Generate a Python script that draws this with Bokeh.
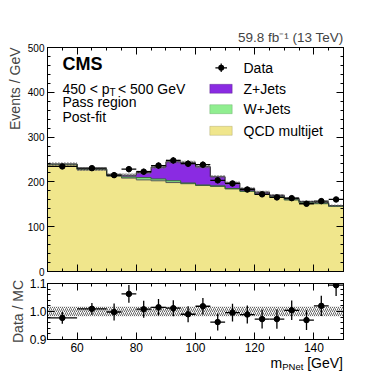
import math
from bokeh.plotting import figure
from bokeh.layouts import column
from bokeh.models import (Range1d, Label, LinearAxis, FixedTicker, BoxAnnotation, Title,
                          CustomLabelingPolicy, PrintfTickFormatter)
from bokeh.embed import file_html
from bokeh.resources import INLINE

# ---------------- data (events / GeV) ----------------
bin_edges = [50, 60, 70, 75, 80, 85, 90, 95, 100, 105, 110, 115, 120, 125, 130, 135, 140, 145, 150]
qcd = [238.5, 227.5, 213.0, 208.5, 204.5, 202.5, 198.5, 196.0, 192.0, 190.0, 184.5, 179.0,
       172.5, 166.5, 160.0, 153.5, 151.5, 145.5]
wjets = [0.5, 0.5, 1.0, 2.5, 5.0, 4.0, 4.0, 1.5, 1.0, 1.0, 0.5, 0.3, 0.2, 0.2, 0.1, 0.1, 0.1, 0.1]
zjets = [1.0, 0.5, 1.5, 4.0, 11.5, 26.5, 42.5, 45.5, 41.0, 20.5, 12.3, 5.7, 4.3, 3.3, 2.9, 2.4, 2.4, 1.4]
data = [234.5, 230.7, 215.1, 228.5, 222.8, 236.5, 247.9, 240.6, 238.4, 203.5, 196.5, 183.0,
        172.2, 165.4, 163.7, 151.2, 157.1, 160.8]
data_err = [5.0, 4.8, 6.6, 6.8, 6.7, 6.9, 7.0, 6.9, 6.9, 6.4, 6.3, 6.0, 5.9, 5.8, 5.7, 5.5, 5.6, 5.7]
mc_unc = [4.1, 3.9, 3.7, 3.7, 3.8, 4.0, 4.2, 4.1, 4.0, 3.6, 3.4, 3.1, 3.0, 2.9, 2.8, 2.7, 2.6, 2.5]

x_major = [60, 80, 100, 120, 140]
main_y_major = [0, 100, 200, 300, 400, 500]
ratio_y_major = [0.9, 1.0, 1.1]

FONT = "Liberation Sans"
C_QCD = "#f0e68c"
C_W = "#90ee90"
C_Z = "#8a2be2"

lefts = bin_edges[:-1]
rights = bin_edges[1:]
centers = [(a + b) / 2 for a, b in zip(lefts, rights)]
low_w = qcd
low_z = [q + w for q, w in zip(qcd, wjets)]
total = [q + w + z for q, w, z in zip(qcd, wjets, zjets)]


def step_xy(vals):
    xs, ys = [], []
    for i, v in enumerate(vals):
        xs += [bin_edges[i], bin_edges[i + 1]]
        ys += [v, v]
    return xs, ys


def band(lower, upper):
    xs, yu = step_xy(upper)
    _, yl = step_xy(lower)
    return xs + xs[::-1], yu + yl[::-1]


NO_LABELS = "try { for (const i of Array.from(indices)) { indices.unset(i) } } catch (e) {}\nreturn indices"


def style_axis(ax, size=None, standoff=3):
    ax.major_tick_in = 7
    ax.major_tick_out = 0
    ax.minor_tick_in = 3
    ax.minor_tick_out = 0
    ax.axis_line_color = "black"
    ax.major_tick_line_color = "black"
    ax.minor_tick_line_color = "black"
    ax.major_label_text_font = FONT
    ax.major_label_text_color = "black"
    if size is None:
        ax.major_label_text_font_size = "0px"
        ax.major_label_standoff = 0
        ax.major_label_policy = CustomLabelingPolicy(code=NO_LABELS)
    else:
        ax.major_label_text_font_size = size
        ax.major_label_standoff = standoff


def make_fig(height, y_range, top, bottom):
    f = figure(width=373, height=height, x_range=Range1d(50, 150), y_range=y_range,
               output_backend="svg", toolbar_location=None, title_location=None,
               min_border_left=47, min_border_right=30, min_border_top=top, min_border_bottom=bottom)
    f.xgrid.visible = False
    f.ygrid.visible = False
    f.outline_line_color = "black"
    f.outline_line_width = 1
    f.background_fill_color = "white"
    f.border_fill_color = "white"
    return f


def lab(fig, x, y, text, size="13px", **kw):
    kw.setdefault("text_baseline", "middle")
    fig.add_layout(Label(x=x, y=y, x_units="screen", y_units="screen", text=text,
                         text_font=FONT, text_font_size=size, text_color="black", **kw))


def screen_box(fig, l, r, b, t, **kw):
    fig.add_layout(BoxAnnotation(left=l, right=r, bottom=b, top=t,
                                 left_units="screen", right_units="screen",
                                 bottom_units="screen", top_units="screen", fill_alpha=1, **kw))


x_minor = list(range(50, 151, 5))
xt = FixedTicker(ticks=x_major, minor_ticks=x_minor)

# ---------------- main panel ----------------
main = make_fig(276, Range1d(0, 500), 47, 5)
yt = FixedTicker(ticks=main_y_major, minor_ticks=list(range(0, 501, 20)))
main.xaxis.ticker = xt
main.yaxis.ticker = yt
style_axis(main.xaxis[0], None)
style_axis(main.yaxis[0], "10px", 3)
ax_top = LinearAxis(ticker=xt)
style_axis(ax_top, None)
main.add_layout(ax_top, "above")
ax_r = LinearAxis(ticker=yt)
style_axis(ax_r, None)
main.add_layout(ax_r, "right")
main.add_layout(Title(text="59.8 fb\u207b\u00b9 (13 TeV)", align="right", text_font=FONT,
                      text_font_size="13.5px", text_font_style="normal", standoff=6), "above")
main.add_layout(Title(text="Events / GeV", align="right", text_font=FONT,
                      text_font_size="14px", text_font_style="normal", standoff=4), "left")

xs, ys = band([0] * len(qcd), qcd)
main.patch(xs, ys, fill_color=C_QCD, line_color=None)
xs, ys = band(low_w, low_z)
main.patch(xs, ys, fill_color=C_W, line_color=None)
xs, ys = band(low_z, total)
main.patch(xs, ys, fill_color=C_Z, line_color=None)
for vals, col in [(qcd, "#555555"), (low_z, "#2e6b2e"), (total, "#222222")]:
    sx, sy = step_xy(vals)
    main.line(sx, sy, line_color=col, line_width=1)
xs, ys = band([t - u for t, u in zip(total, mc_unc)], [t + u for t, u in zip(total, mc_unc)])
main.patch(xs, ys, fill_alpha=0, line_color=None, hatch_pattern="/", hatch_color="#666666",
           hatch_scale=3, hatch_weight=0.9)

main.segment(x0=lefts, x1=rights, y0=data, y1=data, line_color="black", line_width=1.3)
main.segment(x0=centers, x1=centers, y0=[d - e for d, e in zip(data, data_err)],
             y1=[d + e for d, e in zip(data, data_err)], line_color="black", line_width=1.3)
main.scatter(centers, data, size=5.5, color="black")

lab(main, 15, 207.7, "CMS", "18px", text_font_style="bold")
lab(main, 15, 183, "450 < p", "14px")
lab(main, 62, 179.5, "T", "10px")
lab(main, 70.5, 183, "< 500 GeV", "14px")
lab(main, 15, 169.2, "Pass region", "14px")
lab(main, 15, 154.5, "Post-fit", "14px")

# legend
leg_text = ["Data", "Z+Jets", "W+Jets", "QCD multijet"]
leg_mid = [203.7, 182.7, 162.7, 141.0]
for t, m in zip(leg_text, leg_mid):
    lab(main, 196, m, t, "14px")
for col, edge, cy in [(C_Z, "#3a1060", 182.7), (C_W, "#4a8a4a", 162.3), (C_QCD, "#8a8450", 140.7)]:
    screen_box(main, 162.3, 184.7, cy - 4.5, cy + 4.5, fill_color=col, line_color=edge, line_width=1)
screen_box(main, 167.9, 179.5, 203.1, 204.3, fill_color="black", line_color=None)
screen_box(main, 173.1, 174.3, 199.5, 207.9, fill_color="black", line_color=None)
screen_box(main, 170.7, 176.7, 200.7, 206.7, fill_color="black", line_color=None, border_radius=3)

# ---------------- ratio panel ----------------
ratio = make_fig(79, Range1d(0.9, 1.1), 7, 16)
ratio.x_range = main.x_range
ryt = FixedTicker(ticks=ratio_y_major, minor_ticks=[0.9 + 0.02 * i for i in range(11)])
ratio.xaxis.ticker = xt
ratio.yaxis.ticker = ryt
ratio.yaxis.formatter = PrintfTickFormatter(format="%.1f")
style_axis(ratio.xaxis[0], "12px", 3)
style_axis(ratio.yaxis[0], "12px", 1)
ax_top2 = LinearAxis(ticker=xt)
style_axis(ax_top2, None)
ratio.add_layout(ax_top2, "above")
ax_r2 = LinearAxis(ticker=ryt)
style_axis(ax_r2, None)
ratio.add_layout(ax_r2, "right")
ratio.add_layout(Title(text="Data / MC", align="center", text_font=FONT,
                       text_font_size="14px", text_font_style="normal", standoff=2), "left")

rel_unc = [u / t for u, t in zip(mc_unc, total)]
xs, ys = band([1 - r for r in rel_unc], [1 + r for r in rel_unc])
ratio.patch(xs, ys, fill_alpha=0, line_color=None, hatch_pattern="/", hatch_color="#555555",
            hatch_scale=4, hatch_weight=0.9)
r_val = [d / t for d, t in zip(data, total)]
r_err = [e / t for e, t in zip(data_err, total)]
ratio.segment(x0=lefts, x1=rights, y0=r_val, y1=r_val, line_color="black", line_width=1.3)
ratio.segment(x0=centers, x1=centers, y0=[v - e for v, e in zip(r_val, r_err)],
              y1=[v + e for v, e in zip(r_val, r_err)], line_color="black", line_width=1.3)
ratio.scatter(centers, r_val, size=5.5, color="black")

# ---------------- x-axis title strip (frame aligned with the panels above) ----------------
xfig = figure(width=373, height=22, x_range=Range1d(0, 1), y_range=Range1d(0, 1),
              x_axis_type=None, y_axis_type=None, output_backend="svg", toolbar_location=None,
              title_location=None, min_border_left=47, min_border_right=30,
              min_border_top=0, min_border_bottom=0)
xfig.outline_line_color = None
xfig.xgrid.visible = False
xfig.ygrid.visible = False
xfig.background_fill_color = "white"
xfig.border_fill_color = "white"
lab(xfig, 295.5, 15, "[GeV]", "14px", text_align="right")
lab(xfig, 234.7, 11, "PNet", "9.5px", text_align="left")
lab(xfig, 234.7, 15, "m", "14px", text_align="right")

layout = column(main, ratio, xfig, spacing=0)
open("out.html", "w").write(file_html(layout, INLINE))
